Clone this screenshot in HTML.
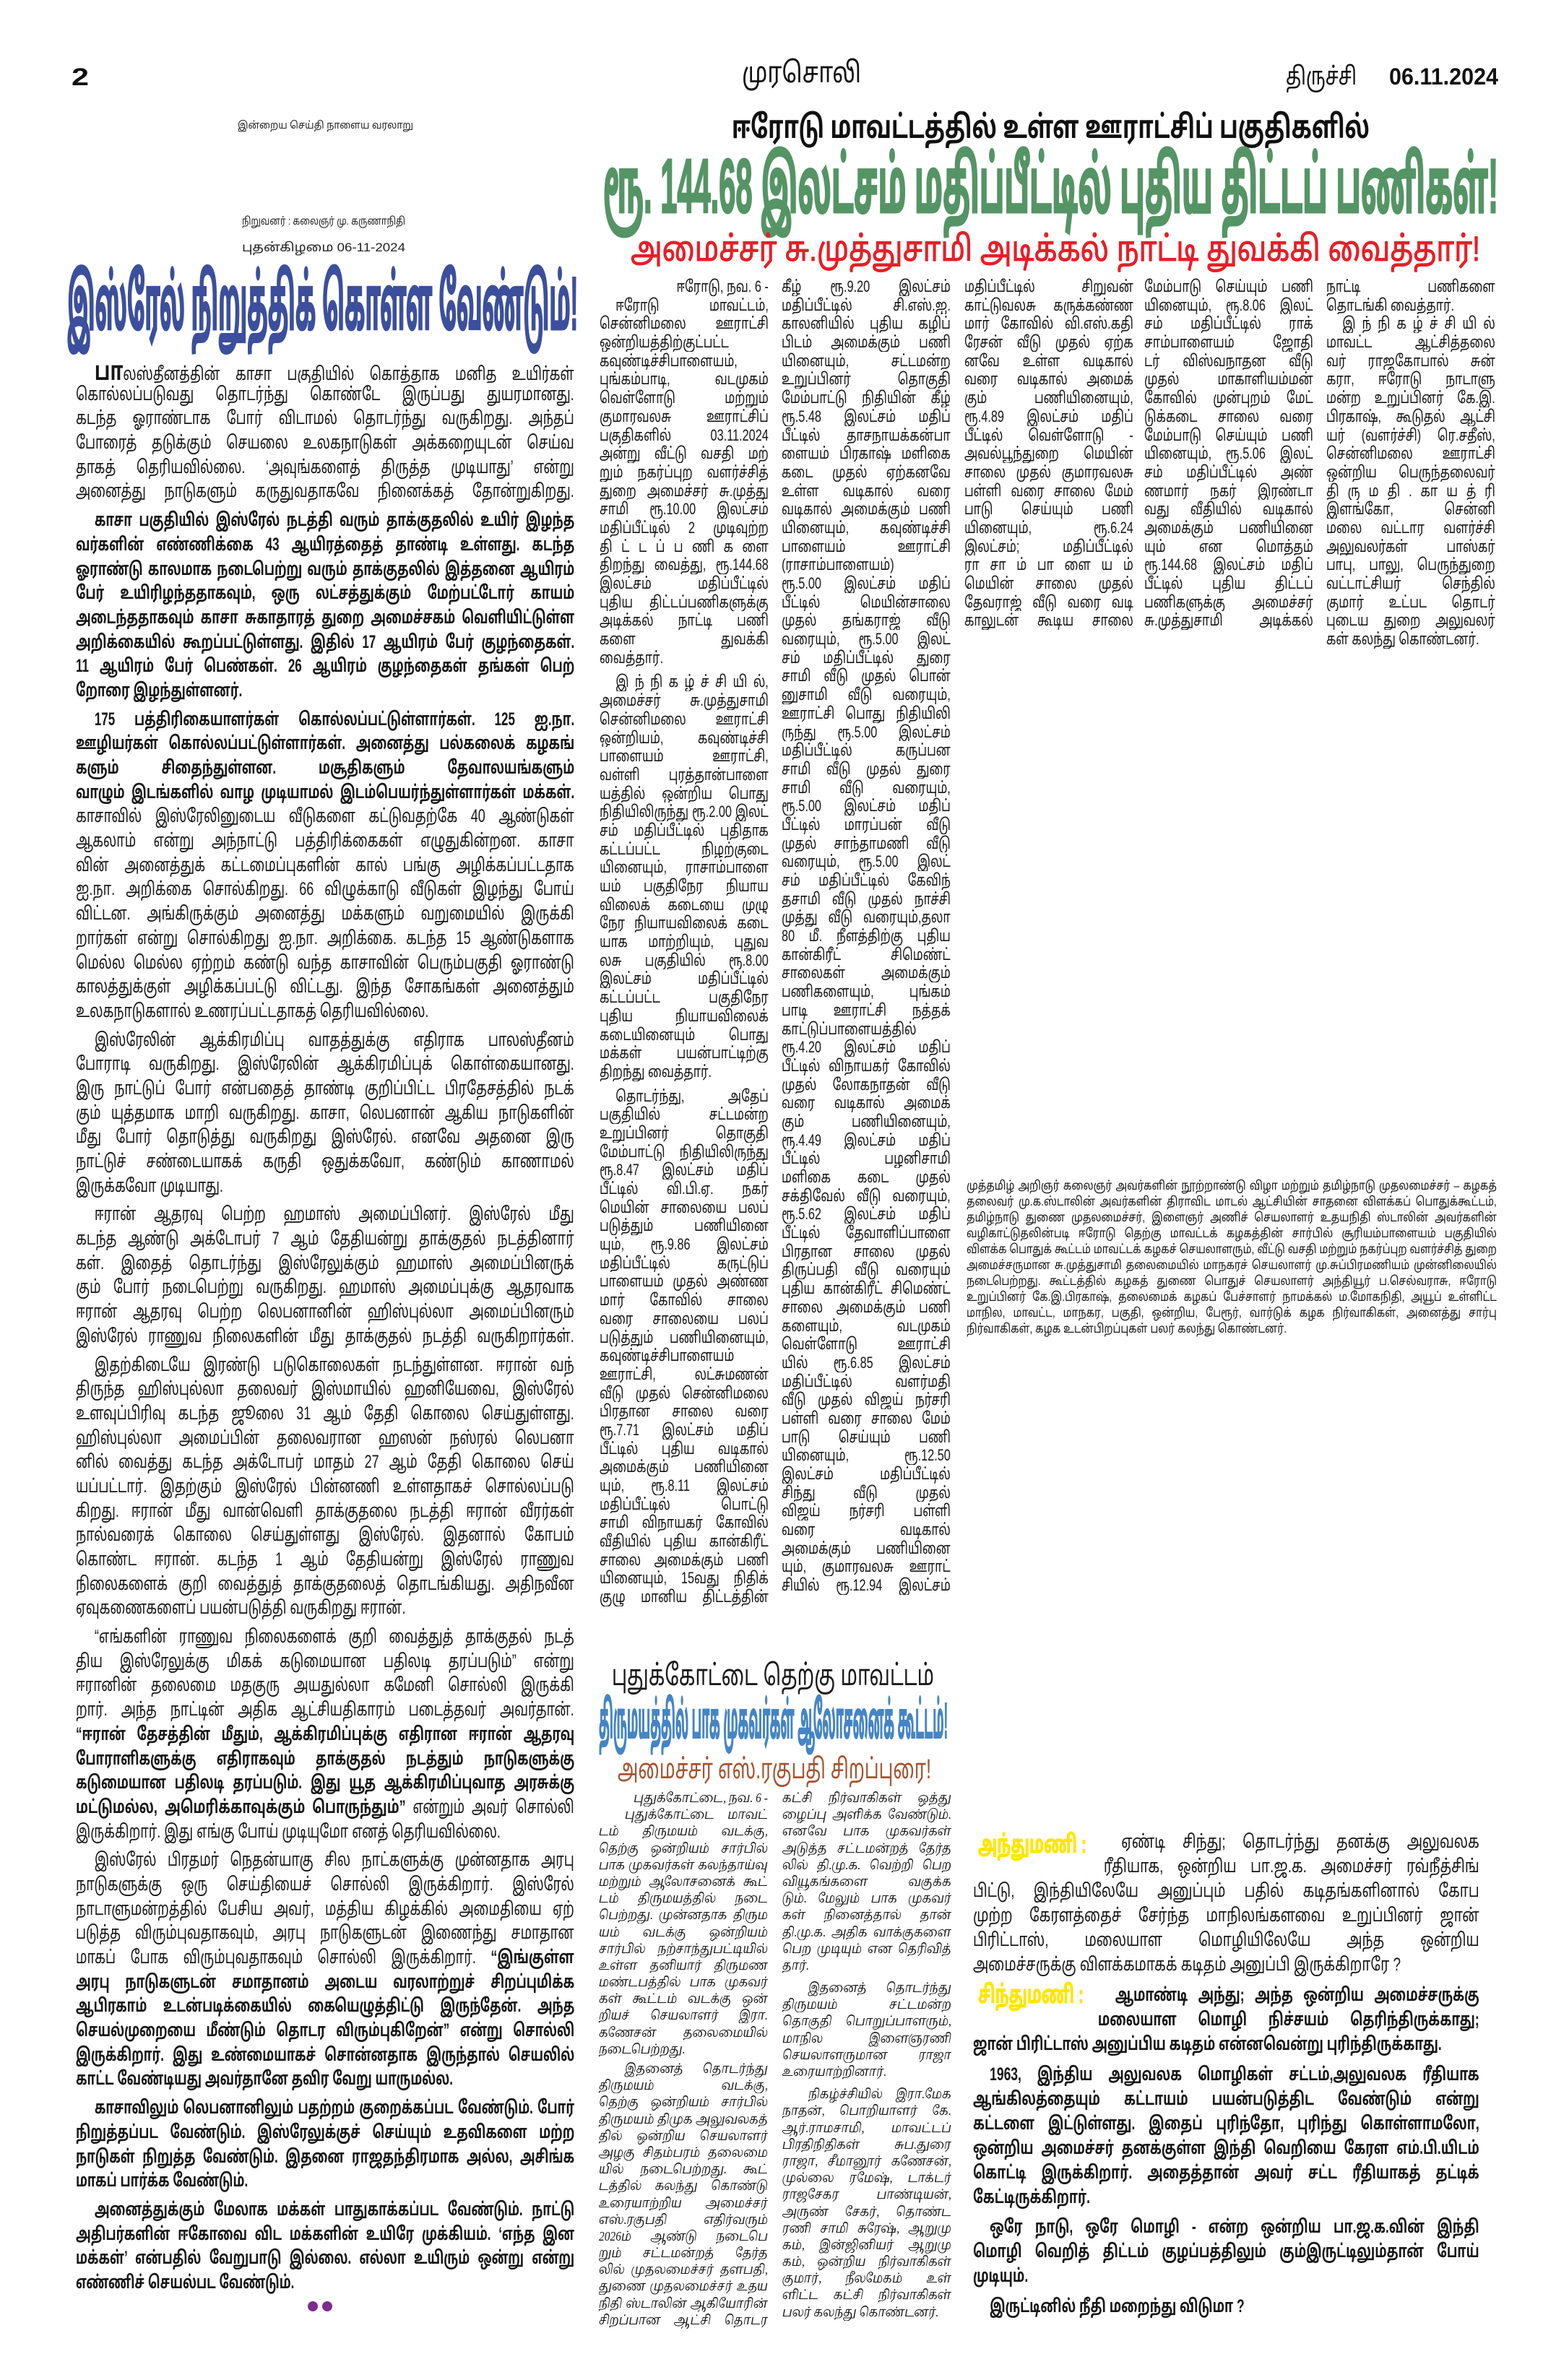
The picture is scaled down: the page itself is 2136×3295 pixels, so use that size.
<!DOCTYPE html>
<html lang="ta">
<head>
<meta charset="utf-8">
<style>
html,body{margin:0;padding:0;background:#fff;}
body{width:2136px;height:3295px;position:relative;overflow:hidden;color:#161616;
font-family:"Liberation Sans","Noto Sans Tamil","Lohit Tamil","Latha",sans-serif;}
.b{position:absolute;}
.b p{margin:0;overflow:hidden;text-align:justify;text-align-last:justify;white-space:normal;box-sizing:border-box;transform-origin:0 0;}
.b p.e{text-align-last:left;}
.b p.r{text-align:right;text-align-last:right;}
.ed{left:105px;top:496px;width:690px;font-size:25px;}
.ed p{height:33.7px;line-height:33.7px;width:958px;transform:scaleX(.72);}
.ed p.g{margin-top:6px;}
.ed p.i{padding-left:36px;}
.ed .k{font-weight:bold;}
.ed div.k p, .ed p.k{width:1015px;transform:scaleX(.68);}
.ed div.k p.i{padding-left:38px;}
.dc{font-size:36px;font-weight:bold;line-height:1;}
.cl{top:384px;width:234px;font-size:22px;font-family:"Liberation Sans Narrow","Liberation Sans","Noto Sans Tamil",sans-serif;}
.cl p{height:25.7px;line-height:25.7px;width:316px;transform:scaleX(.74);}
.cl p.g{margin-top:8px;}
.cl p.i{padding-left:30px;}
.cap{left:1338px;top:1631px;width:734px;font-size:17px;}
.cap p{height:22px;line-height:22px;width:895px;transform:scaleX(.82);}
.pm{top:2478px;width:234px;font-size:18px;font-style:italic;font-family:"Liberation Serif","Noto Serif Tamil",serif;}
.pm p{height:23.2px;line-height:23.2px;width:272px;transform:scaleX(.86);}
.pm p.g{margin-top:8px;}
.pm p.i{padding-left:42px;}
.br{left:1347px;width:701px;font-size:25px;}
.br p{height:34px;line-height:34px;width:922px;transform:scaleX(.76);}
.br p.i{padding-left:30px;}
.br.k{font-weight:bold;}
.br.k p{width:1001px;transform:scaleX(.7);}
.br.k p.i{padding-left:33px;}
</style>
</head>
<body>

<svg class="b" style="left:0;top:0" width="2136" height="3295" viewBox="0 0 2136 3295">
<g font-family="Liberation Sans Narrow, Liberation Sans, Noto Sans Tamil, sans-serif">
<text x="99" y="118" font-size="34" font-weight="bold" fill="#111" textLength="24" lengthAdjust="spacingAndGlyphs">2</text>
<text x="1027" y="114" font-size="40" fill="#111" textLength="165" lengthAdjust="spacingAndGlyphs">முரசொலி</text>
<text x="1780" y="117" font-size="34" fill="#111" textLength="98" lengthAdjust="spacingAndGlyphs">திருச்சி</text>
<text x="1923" y="117" font-size="32" font-weight="bold" fill="#111" textLength="151" lengthAdjust="spacingAndGlyphs">06.11.2024</text>
<text x="329" y="178" font-size="14" fill="#222" textLength="243" lengthAdjust="spacingAndGlyphs">இன்றைய செய்தி நாளைய வரலாறு</text>
<text x="335" y="311" font-size="15" fill="#222" textLength="226" lengthAdjust="spacingAndGlyphs">நிறுவனர் : கலைஞர் மு. கருணாநிதி</text>
<text x="335" y="348" font-size="17" fill="#222" textLength="226" lengthAdjust="spacingAndGlyphs">புதன்கிழமை 06-11-2024</text>
<text x="93" y="456" font-size="104" font-weight="bold" fill="#3c4f9c" stroke="#3c4f9c" stroke-width="3" textLength="707" lengthAdjust="spacingAndGlyphs">இஸ்ரேல் நிறுத்திக் கொள்ள வேண்டும்!</text>
<text x="1013" y="191" font-size="44" font-weight="bold" fill="#111" textLength="883" lengthAdjust="spacingAndGlyphs">ஈரோடு மாவட்டத்தில் உள்ள ஊராட்சிப் பகுதிகளில்</text>
<text x="835" y="294" font-size="106" font-weight="bold" fill="#559465" stroke="#559465" stroke-width="3" textLength="1239" lengthAdjust="spacingAndGlyphs">ரூ. 144.68 இலட்சம் மதிப்பீட்டில் புதிய திட்டப் பணிகள்!</text>
<text x="873" y="361" font-size="48" fill="#e61f27" stroke="#e61f27" stroke-width="1" textLength="1176" lengthAdjust="spacingAndGlyphs">அமைச்சர் சு.முத்துசாமி அடிக்கல் நாட்டி துவக்கி வைத்தார்!</text>
<text x="847" y="2333" font-size="40" fill="#1a1a1a" textLength="446" lengthAdjust="spacingAndGlyphs">புதுக்கோட்டை தெற்கு மாவட்டம்</text>
<text x="829" y="2406" font-size="70" font-weight="bold" fill="#4585c5" stroke="#4585c5" stroke-width="2" textLength="483" lengthAdjust="spacingAndGlyphs">திருமயத்தில் பாக முகவர்கள் ஆலோசனைக் கூட்டம்!</text>
<text x="855" y="2462" font-size="38" fill="#a5532f" textLength="434" lengthAdjust="spacingAndGlyphs">அமைச்சர் எஸ்.ரகுபதி சிறப்புரை!</text>
<text x="1354" y="2565" font-size="34" font-weight="bold" fill="#ffe600" stroke="#ffe600" stroke-width="1" textLength="150" lengthAdjust="spacingAndGlyphs">அந்துமணி :</text>
<text x="1354" y="2773" font-size="34" font-weight="bold" fill="#ffe600" stroke="#ffe600" stroke-width="1" textLength="146" lengthAdjust="spacingAndGlyphs">சிந்துமணி :</text>
</g>
<ellipse cx="433" cy="3193" rx="7" ry="7" fill="#7b2d8e"/>
<ellipse cx="453" cy="3193" rx="7" ry="7" fill="#7b2d8e"/>
</svg>

<!-- Editorial -->
<div class="b ed">
<p class="i"><span class="dc">பா</span>லஸ்தீனத்தின் காசா பகுதியில் கொத்தாக மனித உயிர்கள்</p>
<p>கொல்லப்படுவது தொடர்ந்து கொண்டே இருப்பது துயரமானது.</p>
<p>கடந்த ஓராண்டாக போர் விடாமல் தொடர்ந்து வருகிறது. அந்தப்</p>
<p>போரைத் தடுக்கும் செயலை உலகநாடுகள் அக்கறையுடன் செய்வ</p>
<p>தாகத் தெரியவில்லை. ‘அவுங்களைத் திருத்த முடியாது’ என்று</p>
<p>அனைத்து நாடுகளும் கருதுவதாகவே நினைக்கத் தோன்றுகிறது.</p>
<div class="k">
<p class="i g">காசா பகுதியில் இஸ்ரேல் நடத்தி வரும் தாக்குதலில் உயிர் இழந்த</p>
<p>வர்களின் எண்ணிக்கை 43 ஆயிரத்தைத் தாண்டி உள்ளது. கடந்த</p>
<p>ஓராண்டு காலமாக நடைபெற்று வரும் தாக்குதலில் இத்தனை ஆயிரம்</p>
<p>பேர் உயிரிழந்ததாகவும், ஒரு லட்சத்துக்கும் மேற்பட்டோர் காயம்</p>
<p>அடைந்ததாகவும் காசா சுகாதாரத் துறை அமைச்சகம் வெளியிட்டுள்ள</p>
<p>அறிக்கையில் கூறப்பட்டுள்ளது. இதில் 17 ஆயிரம் பேர் குழந்தைகள்.</p>
<p>11 ஆயிரம் பேர் பெண்கள். 26 ஆயிரம் குழந்தைகள் தங்கள் பெற்</p>
<p class="e">றோரை இழந்துள்ளனர்.</p>
<p class="i g">175 பத்திரிகையாளர்கள் கொல்லப்பட்டுள்ளார்கள். 125 ஐ.நா.</p>
<p>ஊழியர்கள் கொல்லப்பட்டுள்ளார்கள். அனைத்து பல்கலைக் கழகங்</p>
<p>களும் சிதைந்துள்ளன. மசூதிகளும் தேவாலயங்களும் சிதைந்துள்ளன.</p>
<p>வாழும் இடங்களில் வாழ முடியாமல் இடம்பெயர்ந்துள்ளார்கள் மக்கள்.</p>
</div>
<p>காசாவில் இஸ்ரேலினுடைய வீடுகளை கட்டுவதற்கே 40 ஆண்டுகள்</p>
<p>ஆகலாம் என்று அந்நாட்டு பத்திரிக்கைகள் எழுதுகின்றன. காசா</p>
<p>வின் அனைத்துக் கட்டமைப்புகளின் கால் பங்கு அழிக்கப்பட்டதாக</p>
<p>ஐ.நா. அறிக்கை சொல்கிறது. 66 விழுக்காடு வீடுகள் இழந்து போய்</p>
<p>விட்டன. அங்கிருக்கும் அனைத்து மக்களும் வறுமையில் இருக்கி</p>
<p>றார்கள் என்று சொல்கிறது ஐ.நா. அறிக்கை. கடந்த 15 ஆண்டுகளாக</p>
<p>மெல்ல மெல்ல ஏற்றம் கண்டு வந்த காசாவின் பெரும்பகுதி ஓராண்டு</p>
<p>காலத்துக்குள் அழிக்கப்பட்டு விட்டது. இந்த சோகங்கள் அனைத்தும்</p>
<p class="e">உலகநாடுகளால் உணரப்பட்டதாகத் தெரியவில்லை.</p>
<p class="i g">இஸ்ரேலின் ஆக்கிரமிப்பு வாதத்துக்கு எதிராக பாலஸ்தீனம்</p>
<p>போராடி வருகிறது. இஸ்ரேலின் ஆக்கிரமிப்புக் கொள்கையானது.</p>
<p>இரு நாட்டுப் போர் என்பதைத் தாண்டி குறிப்பிட்ட பிரதேசத்தில் நடக்</p>
<p>கும் யுத்தமாக மாறி வருகிறது. காசா, லெபனான் ஆகிய நாடுகளின்</p>
<p>மீது போர் தொடுத்து வருகிறது இஸ்ரேல். எனவே அதனை இரு</p>
<p>நாட்டுச் சண்டையாகக் கருதி ஒதுக்கவோ, கண்டும் காணாமல்</p>
<p class="e">இருக்கவோ முடியாது.</p>
<p class="i g">ஈரான் ஆதரவு பெற்ற ஹமாஸ் அமைப்பினர். இஸ்ரேல் மீது</p>
<p>கடந்த ஆண்டு அக்டோபர் 7 ஆம் தேதியன்று தாக்குதல் நடத்தினார்</p>
<p>கள். இதைத் தொடர்ந்து இஸ்ரேலுக்கும் ஹமாஸ் அமைப்பினருக்</p>
<p>கும் போர் நடைபெற்று வருகிறது. ஹமாஸ் அமைப்புக்கு ஆதரவாக</p>
<p>ஈரான் ஆதரவு பெற்ற லெபனானின் ஹிஸ்புல்லா அமைப்பினரும்</p>
<p>இஸ்ரேல் ராணுவ நிலைகளின் மீது தாக்குதல் நடத்தி வருகிறார்கள்.</p>
<p class="i g">இதற்கிடையே இரண்டு படுகொலைகள் நடந்துள்ளன. ஈரான் வந்</p>
<p>திருந்த ஹிஸ்புல்லா தலைவர் இஸ்மாயில் ஹனியேவை, இஸ்ரேல்</p>
<p>உளவுப்பிரிவு கடந்த ஜூலை 31 ஆம் தேதி கொலை செய்துள்ளது.</p>
<p>ஹிஸ்புல்லா அமைப்பின் தலைவரான ஹஸன் நஸ்ரல் லெபனா</p>
<p>னில் வைத்து கடந்த அக்டோபர் மாதம் 27 ஆம் தேதி கொலை செய்</p>
<p>யப்பட்டார். இதற்கும் இஸ்ரேல் பின்னணி உள்ளதாகச் சொல்லப்படு</p>
<p>கிறது. ஈரான் மீது வான்வெளி தாக்குதலை நடத்தி ஈரான் வீரர்கள்</p>
<p>நால்வரைக் கொலை செய்துள்ளது இஸ்ரேல். இதனால் கோபம்</p>
<p>கொண்ட ஈரான். கடந்த 1 ஆம் தேதியன்று இஸ்ரேல் ராணுவ</p>
<p>நிலைகளைக் குறி வைத்துத் தாக்குதலைத் தொடங்கியது. அதிநவீன</p>
<p class="e">ஏவுகணைகளைப் பயன்படுத்தி வருகிறது ஈரான்.</p>
<p class="i g">“எங்களின் ராணுவ நிலைகளைக் குறி வைத்துத் தாக்குதல் நடத்</p>
<p>திய இஸ்ரேலுக்கு மிகக் கடுமையான பதிலடி தரப்படும்” என்று</p>
<p>ஈரானின் தலைமை மதகுரு அயதுல்லா கமேனி சொல்லி இருக்கி</p>
<p>றார். அந்த நாட்டின் அதிக ஆட்சியதிகாரம் படைத்தவர் அவர்தான்.</p>
<p class="k">“ஈரான் தேசத்தின் மீதும், ஆக்கிரமிப்புக்கு எதிரான ஈரான் ஆதரவு</p>
<p class="k">போராளிகளுக்கு எதிராகவும் தாக்குதல் நடத்தும் நாடுகளுக்கு</p>
<p class="k">கடுமையான பதிலடி தரப்படும். இது யூத ஆக்கிரமிப்புவாத அரசுக்கு</p>
<p><span class="k">மட்டுமல்ல, அமெரிக்காவுக்கும் பொருந்தும்”</span> என்றும் அவர் சொல்லி</p>
<p class="e">இருக்கிறார். இது எங்கு போய் முடியுமோ எனத் தெரியவில்லை.</p>
<p class="i g">இஸ்ரேல் பிரதமர் நெதன்யாகு சில நாட்களுக்கு முன்னதாக அரபு</p>
<p>நாடுகளுக்கு ஒரு செய்தியைச் சொல்லி இருக்கிறார். இஸ்ரேல்</p>
<p>நாடாளுமன்றத்தில் பேசிய அவர், மத்திய கிழக்கில் அமைதியை ஏற்</p>
<p>படுத்த விரும்புவதாகவும், அரபு நாடுகளுடன் இணைந்து சமாதான</p>
<p>மாகப் போக விரும்புவதாகவும் சொல்லி இருக்கிறார். <span class="k">“இங்குள்ள</span></p>
<div class="k">
<p>அரபு நாடுகளுடன் சமாதானம் அடைய வரலாற்றுச் சிறப்புமிக்க</p>
<p>ஆபிரகாம் உடன்படிக்கையில் கையெழுத்திட்டு இருந்தேன். அந்த</p>
<p>செயல்முறையை மீண்டும் தொடர விரும்புகிறேன்” என்று சொல்லி</p>
<p>இருக்கிறார். இது உண்மையாகச் சொன்னதாக இருந்தால் செயலில்</p>
<p class="e">காட்ட வேண்டியது அவர்தானே தவிர வேறு யாருமல்ல.</p>
<p class="i g">காசாவிலும் லெபனானிலும் பதற்றம் குறைக்கப்பட வேண்டும். போர்</p>
<p>நிறுத்தப்பட வேண்டும். இஸ்ரேலுக்குச் செய்யும் உதவிகளை மற்ற</p>
<p>நாடுகள் நிறுத்த வேண்டும். இதனை ராஜதந்திரமாக அல்ல, அசிங்க</p>
<p class="e">மாகப் பார்க்க வேண்டும்.</p>
<p class="i g">அனைத்துக்கும் மேலாக மக்கள் பாதுகாக்கப்பட வேண்டும். நாட்டு</p>
<p>அதிபர்களின் ஈகோவை விட மக்களின் உயிரே முக்கியம். ‘எந்த இன</p>
<p>மக்கள்’ என்பதில் வேறுபாடு இல்லை. எல்லா உயிரும் ஒன்று என்று</p>
<p class="e">எண்ணிச் செயல்பட வேண்டும்.</p>
</div>
</div>

<!-- Erode article column 1 -->
<div class="b cl" style="left:830px">
<p class="r">ஈரோடு, நவ. 6 -</p>
<p class="i">ஈரோடு மாவட்டம்,</p>
<p>சென்னிமலை ஊராட்சி</p>
<p>ஒன்றியத்திற்குட்பட்ட</p>
<p>கவுண்டிச்சிபாளையம்,</p>
<p>புங்கம்பாடி, வடமுகம்</p>
<p>வெள்ளோடு மற்றும்</p>
<p>குமாரவலசு ஊராட்சிப்</p>
<p>பகுதிகளில் 03.11.2024</p>
<p>அன்று வீட்டு வசதி மற்</p>
<p>றும் நகர்ப்புற வளர்ச்சித்</p>
<p>துறை அமைச்சர் சு.முத்து</p>
<p>சாமி ரூ.10.00 இலட்சம்</p>
<p>மதிப்பீட்டில் 2 முடிவுற்ற</p>
<p>தி ட் ட ப் ப ணி க ளை</p>
<p>திறந்து வைத்து, ரூ.144.68</p>
<p>இலட்சம் மதிப்பீட்டில்</p>
<p>புதிய திட்டப்பணிகளுக்கு</p>
<p>அடிக்கல் நாட்டி பணி</p>
<p>களை துவக்கி</p>
<p class="e">வைத்தார்.</p>
<p class="i g">இ ந் நி க ழ் ச் சி யி ல்,</p>
<p>அமைச்சர் சு.முத்துசாமி</p>
<p>சென்னிமலை ஊராட்சி</p>
<p>ஒன்றியம், கவுண்டிச்சி</p>
<p>பாளையம் ஊராட்சி,</p>
<p>வள்ளி புரத்தான்பாளை</p>
<p>யத்தில் ஒன்றிய பொது</p>
<p>நிதியிலிருந்து ரூ.2.00 இலட்</p>
<p>சம் மதிப்பீட்டில் புதிதாக</p>
<p>கட்டப்பட்ட நிழற்குடை</p>
<p>யினையும், ராசாம்பாளை</p>
<p>யம் பகுதிநேர நியாய</p>
<p>விலைக் கடையை முழு</p>
<p>நேர நியாயவிலைக் கடை</p>
<p>யாக மாற்றியும், புதுவ</p>
<p>லசு பகுதியில் ரூ.8.00</p>
<p>இலட்சம் மதிப்பீட்டில்</p>
<p>கட்டப்பட்ட பகுதிநேர</p>
<p>புதிய நியாயவிலைக்</p>
<p>கடையினையும் பொது</p>
<p>மக்கள் பயன்பாட்டிற்கு</p>
<p class="e">திறந்து வைத்தார்.</p>
<p class="i g">தொடர்ந்து, அதேப்</p>
<p>பகுதியில் சட்டமன்ற</p>
<p>உறுப்பினர் தொகுதி</p>
<p>மேம்பாட்டு நிதியிலிருந்து</p>
<p>ரூ.8.47 இலட்சம் மதிப்</p>
<p>பீட்டில் வி.பி.ஏ. நகர்</p>
<p>மெயின் சாலையை பலப்</p>
<p>படுத்தும் பணியினை</p>
<p>யும், ரூ.9.86 இலட்சம்</p>
<p>மதிப்பீட்டில் கருட்டுப்</p>
<p>பாளையம் முதல் அண்ண</p>
<p>மார் கோவில் சாலை</p>
<p>வரை சாலையை பலப்</p>
<p>படுத்தும் பணியினையும்,</p>
<p>கவுண்டிச்சிபாளையம்</p>
<p>ஊராட்சி, லட்சுமணன்</p>
<p>வீடு முதல் சென்னிமலை</p>
<p>பிரதான சாலை வரை</p>
<p>ரூ.7.71 இலட்சம் மதிப்</p>
<p>பீட்டில் புதிய வடிகால்</p>
<p>அமைக்கும் பணியினை</p>
<p>யும், ரூ.8.11 இலட்சம்</p>
<p>மதிப்பீட்டில் பொட்டு</p>
<p>சாமி விநாயகர் கோவில்</p>
<p>வீதியில் புதிய கான்கிரீட்</p>
<p>சாலை அமைக்கும் பணி</p>
<p>யினையும், 15வது நிதிக்</p>
<p>குழு மானிய திட்டத்தின்</p>
</div>

<!-- column 2 -->
<div class="b cl" style="left:1082px">
<p>கீழ் ரூ.9.20 இலட்சம்</p>
<p>மதிப்பீட்டில் சி.எஸ்.ஐ.</p>
<p>காலனியில் புதிய கழிப்</p>
<p>பிடம் அமைக்கும் பணி</p>
<p>யினையும், சட்டமன்ற</p>
<p>உறுப்பினர் தொகுதி</p>
<p>மேம்பாட்டு நிதியின் கீழ்</p>
<p>ரூ.5.48 இலட்சம் மதிப்</p>
<p>பீட்டில் தாசநாயக்கன்பா</p>
<p>ளையம் பிரகாஷ் மளிகை</p>
<p>கடை முதல் ஏற்கனவே</p>
<p>உள்ள வடிகால் வரை</p>
<p>வடிகால் அமைக்கும் பணி</p>
<p>யினையும், கவுண்டிச்சி</p>
<p>பாளையம் ஊராட்சி</p>
<p>(ராசாம்பாளையம்)</p>
<p>ரூ.5.00 இலட்சம் மதிப்</p>
<p>பீட்டில் மெயின்சாலை</p>
<p>முதல் தங்கராஜ் வீடு</p>
<p>வரையும், ரூ.5.00 இலட்</p>
<p>சம் மதிப்பீட்டில் துரை</p>
<p>சாமி வீடு முதல் பொன்</p>
<p>னுசாமி வீடு வரையும்,</p>
<p>ஊராட்சி பொது நிதியிலி</p>
<p>ருந்து ரூ.5.00 இலட்சம்</p>
<p>மதிப்பீட்டில் கருப்பன</p>
<p>சாமி வீடு முதல் துரை</p>
<p>சாமி வீடு வரையும்,</p>
<p>ரூ.5.00 இலட்சம் மதிப்</p>
<p>பீட்டில் மாரப்பன் வீடு</p>
<p>முதல் சாந்தாமணி வீடு</p>
<p>வரையும், ரூ.5.00 இலட்</p>
<p>சம் மதிப்பீட்டில் கேவிந்</p>
<p>தசாமி வீடு முதல் நாச்சி</p>
<p>முத்து வீடு வரையும்,தலா</p>
<p>80 மீ. நீளத்திற்கு புதிய</p>
<p>கான்கிரீட் சிமெண்ட்</p>
<p>சாலைகள் அமைக்கும்</p>
<p>பணிகளையும், புங்கம்</p>
<p>பாடி ஊராட்சி நத்தக்</p>
<p>காட்டுப்பாளையத்தில்</p>
<p>ரூ.4.20 இலட்சம் மதிப்</p>
<p>பீட்டில் விநாயகர் கோவில்</p>
<p>முதல் லோகநாதன் வீடு</p>
<p>வரை வடிகால் அமைக்</p>
<p>கும் பணியினையும்,</p>
<p>ரூ.4.49 இலட்சம் மதிப்</p>
<p>பீட்டில் பழனிசாமி</p>
<p>மளிகை கடை முதல்</p>
<p>சக்திவேல் வீடு வரையும்,</p>
<p>ரூ.5.62 இலட்சம் மதிப்</p>
<p>பீட்டில் தேவாளிப்பாளை</p>
<p>பிரதான சாலை முதல்</p>
<p>திருப்பதி வீடு வரையும்</p>
<p>புதிய கான்கிரீட் சிமெண்ட்</p>
<p>சாலை அமைக்கும் பணி</p>
<p>களையும், வடமுகம்</p>
<p>வெள்ளோடு ஊராட்சி</p>
<p>யில் ரூ.6.85 இலட்சம்</p>
<p>மதிப்பீட்டில் வளர்மதி</p>
<p>வீடு முதல் விஜய் நர்சரி</p>
<p>பள்ளி வரை சாலை மேம்</p>
<p>பாடு செய்யும் பணி</p>
<p>யினையும், ரூ.12.50</p>
<p>இலட்சம் மதிப்பீட்டில்</p>
<p>சிந்து வீடு முதல்</p>
<p>விஜய் நர்சரி பள்ளி</p>
<p>வரை வடிகால்</p>
<p>அமைக்கும் பணியினை</p>
<p>யும், குமாரவலசு ஊராட்</p>
<p>சியில் ரூ.12.94 இலட்சம்</p>
</div>

<!-- column 3 -->
<div class="b cl" style="left:1335px">
<p>மதிப்பீட்டில் சிறுவன்</p>
<p>காட்டுவலசு கருக்கண்ண</p>
<p>மார் கோவில் வி.எஸ்.கதி</p>
<p>ரேசன் வீடு முதல் ஏற்க</p>
<p>னவே உள்ள வடிகால்</p>
<p>வரை வடிகால் அமைக்</p>
<p>கும் பணியினையும்,</p>
<p>ரூ.4.89 இலட்சம் மதிப்</p>
<p>பீட்டில் வெள்ளோடு -</p>
<p>அவல்பூந்துறை மெயின்</p>
<p>சாலை முதல் குமாரவலசு</p>
<p>பள்ளி வரை சாலை மேம்</p>
<p>பாடு செய்யும் பணி</p>
<p>யினையும், ரூ.6.24</p>
<p>இலட்சம்; மதிப்பீட்டில்</p>
<p>ரா சா ம் பா ளை ய ம்</p>
<p>மெயின் சாலை முதல்</p>
<p>தேவராஜ் வீடு வரை வடி</p>
<p>காலுடன் கூடிய சாலை</p>
</div>

<!-- column 4 -->
<div class="b cl" style="left:1584px">
<p>மேம்பாடு செய்யும் பணி</p>
<p>யினையும், ரூ.8.06 இலட்</p>
<p>சம் மதிப்பீட்டில் ராக்</p>
<p>சாம்பாளையம் ஜோதி</p>
<p>டர் விஸ்வநாதன வீடு</p>
<p>முதல் மாகாளியம்மன்</p>
<p>கோவில் முன்புறம் மேட்</p>
<p>டுக்கடை சாலை வரை</p>
<p>மேம்பாடு செய்யும் பணி</p>
<p>யினையும், ரூ.5.06 இலட்</p>
<p>சம் மதிப்பீட்டில் அண்</p>
<p>ணமார் நகர் இரண்டா</p>
<p>வது வீதியில் வடிகால்</p>
<p>அமைக்கும் பணியினை</p>
<p>யும் என மொத்தம்</p>
<p>ரூ.144.68 இலட்சம் மதிப்</p>
<p>பீட்டில் புதிய திட்டப்</p>
<p>பணிகளுக்கு அமைச்சர்</p>
<p>சு.முத்துசாமி அடிக்கல்</p>
</div>

<!-- column 5 -->
<div class="b cl" style="left:1836px">
<p>நாட்டி பணிகளை</p>
<p class="e">தொடங்கி வைத்தார்.</p>
<p class="i">இ ந் நி க ழ் ச் சி யி ல்</p>
<p>மாவட்ட ஆட்சித்தலை</p>
<p>வர் ராஜகோபால் சுன்</p>
<p>கரா, ஈரோடு நாடாளு</p>
<p>மன்ற உறுப்பினர் கே.இ.</p>
<p>பிரகாஷ், கூடுதல் ஆட்சி</p>
<p>யர் (வளர்ச்சி) ரெ.சதீஸ்,</p>
<p>சென்னிமலை ஊராட்சி</p>
<p>ஒன்றிய பெருந்தலைவர்</p>
<p>தி ரு ம தி . கா ய த் ரி</p>
<p>இளங்கோ, சென்னி</p>
<p>மலை வட்டார வளர்ச்சி</p>
<p>அலுவலர்கள் பாஸ்கர்</p>
<p>பாபு, பாலு, பெருந்துறை</p>
<p>வட்டாட்சியர் செந்தில்</p>
<p>குமார் உட்பட தொடர்</p>
<p>புடைய துறை அலுவலர்</p>
<p class="e">கள் கலந்து கொண்டனர்.</p>
</div>

<!-- caption -->
<div class="b cap">
<p>முத்தமிழ் அறிஞர் கலைஞர் அவர்களின் நூற்றாண்டு விழா மற்றும் தமிழ்நாடு முதலமைச்சர் – கழகத்</p>
<p>தலைவர் மு.க.ஸ்டாலின் அவர்களின் திராவிட மாடல் ஆட்சியின் சாதனை விளக்கப் பொதுக்கூட்டம்,</p>
<p>தமிழ்நாடு துணை முதலமைச்சர், இளைஞர் அணிச் செயலாளர் உதயநிதி ஸ்டாலின் அவர்களின்</p>
<p>வழிகாட்டுதலின்படி ஈரோடு தெற்கு மாவட்டக் கழகத்தின் சார்பில் சூரியம்பாளையம் பகுதியில் சாதனை</p>
<p>விளக்க பொதுக் கூட்டம் மாவட்டக் கழகச் செயலாளரும், வீட்டு வசதி மற்றும் நகர்ப்புற வளர்ச்சித் துறை</p>
<p>அமைச்சருமான சு.முத்துசாமி தலைமையில் மாநகரச் செயலாளர் மு.சுப்பிரமணியம் முன்னிலையில்</p>
<p>நடைபெற்றது. கூட்டத்தில் கழகத் துணை பொதுச் செயலாளர் அந்தியூர் ப.செல்வராசு, ஈரோடு நாடாளுமன்ற</p>
<p>உறுப்பினர் கே.இ.பிரகாஷ், தலைமைக் கழகப் பேச்சாளர் நாமக்கல் ம.மோகநிதி, அயூப் உள்ளிட்ட</p>
<p>மாநில, மாவட்ட, மாநகர, பகுதி, ஒன்றிய, பேரூர், வார்டுக் கழக நிர்வாகிகள், அனைத்து சார்பு அணிகளின்</p>
<p class="e">நிர்வாகிகள், கழக உடன்பிறப்புகள் பலர் கலந்து கொண்டனர்.</p>
</div>

<!-- Pudukkottai column A -->
<div class="b pm" style="left:829px">
<p class="r">புதுக்கோட்டை, நவ. 6 -</p>
<p class="i">புதுக்கோட்டை மாவட்</p>
<p>டம் திருமயம் வடக்கு,</p>
<p>தெற்கு ஒன்றியம் சார்பில்</p>
<p>பாக முகவர்கள் கலந்தாய்வு</p>
<p>மற்றும் ஆலோசனைக் கூட்</p>
<p>டம் திருமயத்தில் நடை</p>
<p>பெற்றது. முன்னதாக திரும</p>
<p>யம் வடக்கு ஒன்றியம்</p>
<p>சார்பில் நற்சாந்துபட்டியில்</p>
<p>உள்ள தனியார் திருமண</p>
<p>மண்டபத்தில் பாக முகவர்</p>
<p>கள் கூட்டம் வடக்கு ஒன்</p>
<p>றியச் செயலாளர் இரா.</p>
<p>கணேசன் தலைமையில்</p>
<p class="e">நடைபெற்றது.</p>
<p class="i" style="margin-top:4px">இதனைத் தொடர்ந்து</p>
<p>திருமயம் வடக்கு,</p>
<p>தெற்கு ஒன்றியம் சார்பில்</p>
<p>திருமயம் திமுக அலுவலகத்</p>
<p>தில் ஒன்றிய செயலாளர்</p>
<p>அழகு சிதம்பரம் தலைமை</p>
<p>யில் நடைபெற்றது. கூட்</p>
<p>டத்தில் கலந்து கொண்டு</p>
<p>உரையாற்றிய அமைச்சர்</p>
<p>எஸ்.ரகுபதி எதிர்வரும்</p>
<p>2026ம் ஆண்டு நடைபெ</p>
<p>றும் சட்டமன்றத் தேர்த</p>
<p>லில் முதலமைச்சர் தளபதி,</p>
<p>துணை முதலமைச்சர் உதய</p>
<p>நிதி ஸ்டாலின் ஆகியோரின்</p>
<p>சிறப்பான ஆட்சி தொடர</p>
</div>

<!-- Pudukkottai column B -->
<div class="b pm" style="left:1083px">
<p>கட்சி நிர்வாகிகள் ஒத்து</p>
<p>ழைப்பு அளிக்க வேண்டும்.</p>
<p>எனவே பாக முகவர்கள்</p>
<p>அடுத்த சட்டமன்றத் தேர்த</p>
<p>லில் தி.மு.க. வெற்றி பெற</p>
<p>வியூகங்களை வகுக்க வேண்</p>
<p>டும். மேலும் பாக முகவர்</p>
<p>கள் நினைத்தால் தான்</p>
<p>தி.மு.க. அதிக வாக்குகளை</p>
<p>பெற முடியும் என தெரிவித்</p>
<p class="e">தார்.</p>
<p class="i g">இதனைத் தொடர்ந்து</p>
<p>திருமயம் சட்டமன்ற</p>
<p>தொகுதி பொறுப்பாளரும்,</p>
<p>மாநில இளைஞரணி துணைச்</p>
<p>செயலாளருமான ராஜா</p>
<p class="e">உரையாற்றினார்.</p>
<p class="i g">நிகழ்ச்சியில் இரா.மேக</p>
<p>நாதன், பொறியாளர் கே.</p>
<p>ஆர்.ராமசாமி, மாவட்டப்</p>
<p>பிரதிநிதிகள் சுப.துரை</p>
<p>ராஜா, சீமானூர் கணேசன்,</p>
<p>முல்லை ரமேஷ், டாக்டர்</p>
<p>ராஜசேகர பாண்டியன்,</p>
<p>அருண் சேகர், தொண்ட</p>
<p>ரணி சாமி சுரேஷ், ஆறுமு</p>
<p>கம், இன்ஜினியர் ஆறுமு</p>
<p>கம், ஒன்றிய நிர்வாகிகள்</p>
<p>குமார், நீலமேகம் உள்</p>
<p>ளிட்ட கட்சி நிர்வாகிகள்</p>
<p class="e">பலர் கலந்து கொண்டனர்.</p>
</div>

<!-- Anthumani / Sinthumani -->
<div class="b br" style="top:2533px">
<p style="padding-left:270px">ஏண்டி சிந்து; தொடர்ந்து தனக்கு அலுவலக</p>
<p style="padding-left:238px">ரீதியாக, ஒன்றிய பா.ஜ.க. அமைச்சர் ரவ்நீத்சிங்</p>
<p>பிட்டு, இந்தியிலேயே அனுப்பும் பதில் கடிதங்களினால் கோப</p>
<p>முற்ற கேரளத்தைச் சேர்ந்த மாநிலங்களவை உறுப்பினர் ஜான்</p>
<p>பிரிட்டாஸ், மலையாள மொழியிலேயே அந்த ஒன்றிய</p>
<p class="e">அமைச்சருக்கு விளக்கமாகக் கடிதம் அனுப்பி இருக்கிறாரே ?</p>
</div>
<div class="b br k" style="top:2745px">
<p style="padding-left:281px">ஆமாண்டி அந்து; அந்த ஒன்றிய அமைச்சருக்கு</p>
<p style="padding-left:247px">மலையாள மொழி நிச்சயம் தெரிந்திருக்காது;</p>
<p class="e">ஜான் பிரிட்டாஸ் அனுப்பிய கடிதம் என்னவென்று புரிந்திருக்காது.</p>
</div>
<div class="b br k" style="top:2855px">
<p class="i">1963, இந்திய அலுவலக மொழிகள் சட்டம்,அலுவலக ரீதியாக</p>
<p>ஆங்கிலத்தையும் கட்டாயம் பயன்படுத்திட வேண்டும் என்று</p>
<p>கட்டளை இட்டுள்ளது. இதைப் புரிந்தோ, புரிந்து கொள்ளாமலோ,</p>
<p>ஒன்றிய அமைச்சர் தனக்குள்ள இந்தி வெறியை கேரள எம்.பி.யிடம்</p>
<p>கொட்டி இருக்கிறார். அதைத்தான் அவர் சட்ட ரீதியாகத் தட்டிக்</p>
<p class="e">கேட்டிருக்கிறார்.</p>
</div>
<div class="b br k" style="top:3066px">
<p class="i">ஒரே நாடு, ஒரே மொழி - என்ற ஒன்றிய பா.ஜ.க.வின் இந்தி</p>
<p>மொழி வெறித் திட்டம் குழப்பத்திலும் கும்இருட்டிலும்தான் போய்</p>
<p class="e">முடியும்.</p>
</div>
<div class="b br k" style="top:3176px">
<p class="i e">இருட்டினில் நீதி மறைந்து விடுமா ?</p>
</div>

</body>
</html>
